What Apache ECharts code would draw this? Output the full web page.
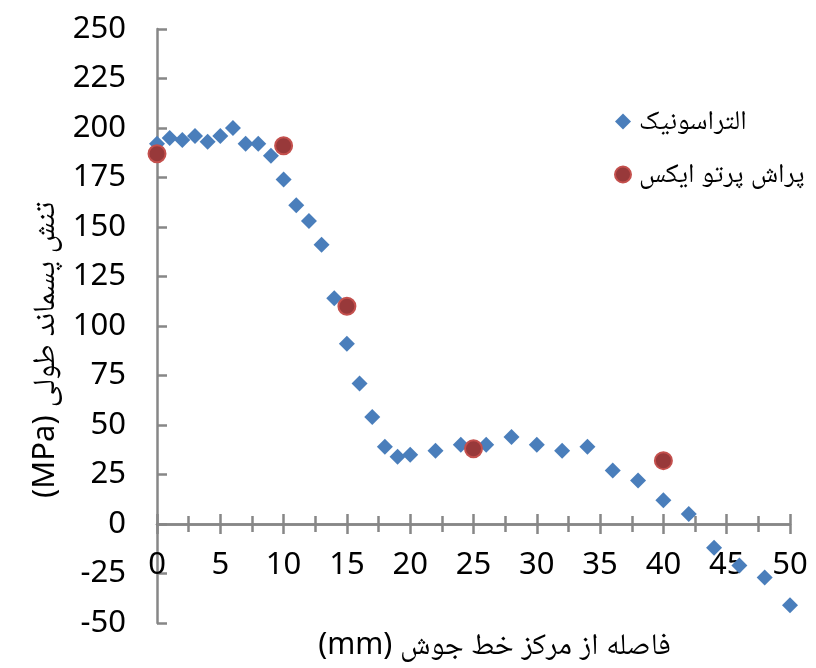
<!DOCTYPE html>
<html>
<head>
<meta charset="utf-8">
<script src="https://cdn.jsdelivr.net/npm/echarts@6/dist/echarts.min.js"></script>
<style>
  html, body { margin: 0; padding: 0; background: #fff; }
  #chart { width: 816px; height: 668px; }
</style>
</head>
<body>
<div id="chart"></div>
<script>
// فاصله از مرکز خط جوش (mm) و تنش پسماند (MPa)
var ultraX = [0, 1, 2, 3, 4, 5, 6, 7, 8, 9, 10, 11, 12, 13, 14, 15, 16, 17, 18, 19, 20,
              22, 24, 26, 28, 30, 32, 34, 36, 38, 40, 42, 44, 46, 48, 50];
var ultraY = [192, 195, 194, 196, 193, 196, 200, 192, 192, 186, 174, 161, 153, 141, 114, 91, 71, 54, 39, 34, 35,
              37, 40, 40, 44, 40, 37, 39, 27, 22, 12, 5, -12, -21, -27, -41];
var xrayX = [0, 10, 15, 25, 40];
var xrayY = [187, 191, 110, 38, 32];

var ultraName = '\u202Bالتراسونیک\u202C';
var xrayName = '\u202Bپراش پرتو ایکس\u202C';
var xName = '\u202Bفاصله از مرکز خط جوش (mm)\u202C';
var yName = '\u202Bتنش پسماند طولی (MPa)\u202C';

var FONT = "'Noto Sans', 'Noto Naskh Arabic', 'DejaVu Sans', sans-serif";
var AXIS_COLOR = '#878787';

var yMin = -50, yMax = 250;
var gridTop = 29, gridBottom = 45, chartH = 668;
// x axis sits on y = 0, so shift it up from the grid bottom
var zeroOffset = -(chartH - gridTop - gridBottom) * (0 - yMin) / (yMax - yMin);

function pairs(xs, ys) {
    var out = [];
    for (var i = 0; i < xs.length; i++) {
        out.push([xs[i], ys[i]]);
    }
    return out;
}

var myChart = echarts.init(document.getElementById('chart'));

var option = {
    backgroundColor: '#fff',
    animation: false,
    grid: {
        left: 157,
        right: 26,
        top: gridTop,
        bottom: gridBottom,
        containLabel: false,
        outerBoundsMode: 'none'
    },
    legend: {
        orient: 'vertical',
        left: 609,
        top: 103,
        itemGap: 26,
        itemWidth: 16,
        itemHeight: 16,
        textStyle: {
            fontFamily: FONT,
            fontSize: 27,
            color: '#000',
            padding: [0, 0, 0, 3]
        },
        data: [ultraName, xrayName]
    },
    xAxis: [
        {
            type: 'value',
            position: 'bottom',
            offset: zeroOffset,
            min: 0,
            max: 50,
            interval: 5,
            name: xName,
            nameLocation: 'middle',
            nameGap: 106,
            nameTextStyle: {
                fontFamily: FONT,
                fontSize: 30,
                color: '#000',
                padding: [0, 0, 0, 42]
            },
            axisLine: { onZero: false, lineStyle: { color: AXIS_COLOR, width: 2.5 } },
            axisTick: { show: true, inside: false, length: 10, lineStyle: { color: AXIS_COLOR, width: 2.5 } },
            minorTick: { show: true, splitNumber: 2, length: 8, lineStyle: { color: AXIS_COLOR, width: 2.5 } },
            axisLabel: { margin: 26, fontFamily: FONT, fontSize: 31, color: '#000' },
            splitLine: { show: false }
        },
        {
            // upper half of the crossing ticks
            type: 'value',
            position: 'bottom',
            offset: zeroOffset,
            min: 0,
            max: 50,
            interval: 5,
            axisLine: { show: true, onZero: false, lineStyle: { color: AXIS_COLOR, width: 2.5 } },
            axisTick: { show: true, inside: true, length: 10, lineStyle: { color: AXIS_COLOR, width: 2.5 } },
            minorTick: { show: true, splitNumber: 2, length: 8, lineStyle: { color: AXIS_COLOR, width: 2.5 } },
            axisLabel: { show: false },
            splitLine: { show: false }
        }
    ],
    yAxis: {
        type: 'value',
        min: yMin,
        max: yMax,
        interval: 25,
        name: yName,
        nameLocation: 'middle',
        nameRotate: 90,
        nameGap: 96,
        nameTextStyle: {
            fontFamily: FONT,
            fontSize: 31,
            color: '#000',
            padding: [0, 48, 0, 0]
        },
        axisLine: { show: true, onZero: false, lineStyle: { color: AXIS_COLOR, width: 2.5 } },
        axisTick: { show: true, inside: true, length: 10, lineStyle: { color: AXIS_COLOR, width: 2.5 } },
        axisLabel: { margin: 31, fontFamily: FONT, fontSize: 31, color: '#000' },
        splitLine: { show: false }
    },
    series: [
        {
            name: ultraName,
            type: 'scatter',
            xAxisIndex: 0,
            symbol: 'diamond',
            symbolSize: 16,
            itemStyle: { color: '#4A7EBB', opacity: 1 },
            data: pairs(ultraX, ultraY)
        },
        {
            name: xrayName,
            type: 'scatter',
            xAxisIndex: 0,
            symbol: 'circle',
            symbolSize: 17,
            itemStyle: { color: '#98393A', borderColor: '#C4504D', borderWidth: 2, opacity: 1 },
            data: pairs(xrayX, xrayY)
        }
    ]
};

myChart.setOption(option);
</script>
</body>
</html>
